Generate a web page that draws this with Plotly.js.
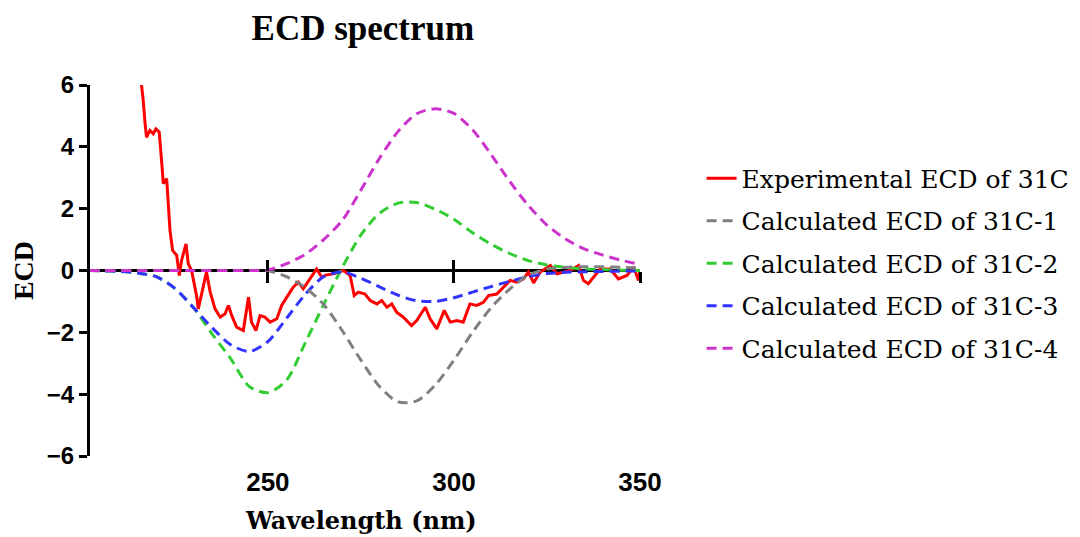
<!DOCTYPE html>
<html>
<head>
<meta charset="utf-8">
<script src="https://cdn.plot.ly/plotly-3.0.1.min.js"></script>
<style>html,body{margin:0;padding:0;background:#fff;}#chart{width:1080px;height:537px;}</style>
</head>
<body>
<div id="chart"></div>
<script>
// ---- data ----
const seriesNames = ["Experimental ECD of 31C", "Calculated ECD of 31C-1", "Calculated ECD of 31C-2", "Calculated ECD of 31C-3", "Calculated ECD of 31C-4"];

const expWl = [215.5,216.1,216.5,217.0,217.4,218.3,219.2,219.9,220.8,221.5,221.9,222.8,223.2,223.7,224.4,225.5,226.2,226.8,228.0,228.6,229.5,230.4,230.9,231.3,232.6,233.5,234.5,235.8,237.2,238.5,239.4,240.3,241.6,243.4,244.8,245.6,246.8,247.9,249.2,250.6,252.4,253.7,255.1,256.8,258.2,259.5,261.3,263.1,264.5,265.5,267.6,270.3,272.1,273.2,274.3,276.1,277.5,279.3,280.6,282.0,283.3,284.6,286.4,288.6,290.0,292.3,293.6,295.4,297.4,299.0,300.8,302.5,304.3,306.1,307.9,309.3,311.5,313.3,315.1,316.9,318.7,320.0,321.4,323.2,325.9,327.7,329.4,331.2,333.5,334.8,336.1,337.5,339.3,342.0,344.2,346.5,348.3,349.6,350.0];
const expEcd = [6.6,5.99,5.5,4.75,4.31,4.53,4.42,4.58,4.48,3.45,2.81,2.97,2.05,1.29,0.65,0.49,-0.16,0.32,0.86,0.22,0.0,-0.54,-0.86,-1.24,-0.59,-0.05,-0.7,-1.24,-1.51,-1.4,-1.13,-1.46,-1.83,-1.94,-0.86,-1.67,-1.94,-1.46,-1.51,-1.67,-1.56,-1.13,-0.86,-0.54,-0.38,-0.59,-0.27,0.05,-0.22,-0.15,-0.11,0.0,-0.16,-0.81,-0.7,-0.76,-0.97,-1.08,-0.97,-1.19,-1.08,-1.35,-1.51,-1.78,-1.62,-1.19,-1.56,-1.89,-1.29,-1.67,-1.62,-1.67,-1.08,-1.13,-1.03,-0.81,-0.76,-0.54,-0.32,-0.38,-0.27,-0.05,-0.4,-0.05,0.16,-0.11,-0.05,0.0,0.16,-0.32,-0.43,-0.22,0.05,0.05,-0.27,-0.16,0.11,-0.32,0.0];

const calcWl = [202,205,210,215,220,225,230,235,240,245,250,255,260,265,270,275,280,285,290,295,300,305,310,315,320,325,330,335,340,345,350];
const calc1 = [0,0,0,0,0,0,0,0,0,0,-0.01,-0.2,-0.55,-1.1,-1.95,-2.9,-3.75,-4.25,-4.22,-3.7,-2.9,-2.0,-1.2,-0.6,-0.15,0.05,0.1,0.12,0.12,0.1,0.08];
const calc2 = [0,-0.01,-0.03,-0.08,-0.2,-0.58,-1.2,-2.05,-2.85,-3.75,-3.95,-3.55,-2.35,-1.1,0.1,1.15,1.85,2.18,2.2,1.98,1.66,1.22,0.85,0.55,0.32,0.18,0.1,0.05,0.03,0.01,0];
const calc3 = [0,-0.01,-0.03,-0.08,-0.2,-0.58,-1.2,-1.85,-2.4,-2.62,-2.3,-1.55,-0.78,-0.2,-0.05,-0.25,-0.53,-0.8,-0.98,-1.0,-0.88,-0.7,-0.52,-0.35,-0.2,-0.1,-0.06,-0.04,-0.03,-0.02,-0.02];
const calc4 = [0,0,0,0,0,0,0,0,0,0,0.02,0.22,0.52,1.0,1.62,2.6,3.63,4.5,5.07,5.23,5.08,4.55,3.75,2.88,2.1,1.47,1.02,0.7,0.5,0.33,0.2];

const xTicks = [250, 300, 350];
const yTicks = [-6, -4, -2, 0, 2, 4, 6];
const xRange = [202.2, 350];
const yRange = [-6, 6];
const xTitle = "Wavelength (nm)";
const yTitle = "ECD";
const chartTitle = "ECD spectrum";

const colors = ["#FF0000", "#808080", "#33CC33", "#3333FF", "#CC33CC"];
const serif = "Liberation Serif";
const serif2 = "DejaVu Serif";
const sans = "Liberation Sans";

const calcSets = [calc1, calc2, calc3, calc4];
const calcAxes = ["x2", "x", "x", "x3"];
const traces = [{
  x: expWl, y: expEcd, type: "scatter", mode: "lines", name: seriesNames[0], legendgroup: "g0",
  line: {color: colors[0], width: 3}
}];
calcSets.forEach((ys, i) => {
  traces.push({
    x: calcWl, y: ys, type: "scatter", mode: "lines", name: seriesNames[i + 1], legendgroup: "g" + (i + 1),
    xaxis: calcAxes[i],
    line: {color: colors[i + 1], width: 3, dash: "10px,6px", shape: "spline", smoothing: 0.8}
  });
});

const crossAxis = (side) => ({
  overlaying: "x", anchor: "free", position: 0.5, range: xRange,
  tickmode: "array", tickvals: xTicks, ticks: side, ticklen: 11, tickwidth: 3, tickcolor: "#000",
  showticklabels: false, showline: false, showgrid: false, zeroline: false, fixedrange: true
});

const layout = {
  width: 1080, height: 537,
  margin: {l: 90, r: 440, t: 85, b: 81, autoexpand: false},
  paper_bgcolor: "#fff", plot_bgcolor: "#fff",
  font: {family: serif, color: "#000", size: 28},
  title: {text: chartTitle, font: {family: serif, size: 35, weight: "bold", color: "#000"},
          x: 0.336, xanchor: "center", xref: "container", y: 0.948, yanchor: "middle", yref: "container"},
  xaxis: {
    range: xRange, tickmode: "array", tickvals: xTicks, ticks: "", showline: false, showgrid: false, zeroline: false,
    tickfont: {family: sans, size: 26, weight: "bold", color: "#000"}, ticklabelstandoff: 8
  },
  xaxis2: crossAxis("outside"),
  xaxis3: crossAxis("inside"),
  yaxis: {
    range: yRange, tickmode: "array", tickvals: yTicks, ticks: "outside", ticklen: 8, tickwidth: 3, tickcolor: "#000",
    showline: true, linewidth: 3, linecolor: "#000", showgrid: false,
    zeroline: true, zerolinewidth: 3, zerolinecolor: "#000",
    tickfont: {family: sans, size: 24, weight: "bold", color: "#000"}, ticklabelstandoff: 0,
    title: {text: yTitle, font: {family: serif, size: 28, weight: "bold", color: "#000"}, standoff: 6}
  },
  annotations: [{
    text: xTitle, xref: "paper", yref: "paper", x: 0.4927, y: -0.175, xanchor: "center", yanchor: "middle",
    showarrow: false, font: {family: serif2, size: 24, weight: "bold", color: "#000"}
  }],
  showlegend: true,
  legend: {x: 1.112, y: 0.81, xanchor: "left", yanchor: "top", bgcolor: "rgba(0,0,0,0)", traceorder: "grouped",
           font: {family: serif2, size: 25, color: "#000"}, itemwidth: 30, tracegroupgap: 7}
};

Plotly.newPlot("chart", traces, layout, {displayModeBar: false, staticPlot: true});
</script>
</body>
</html>
